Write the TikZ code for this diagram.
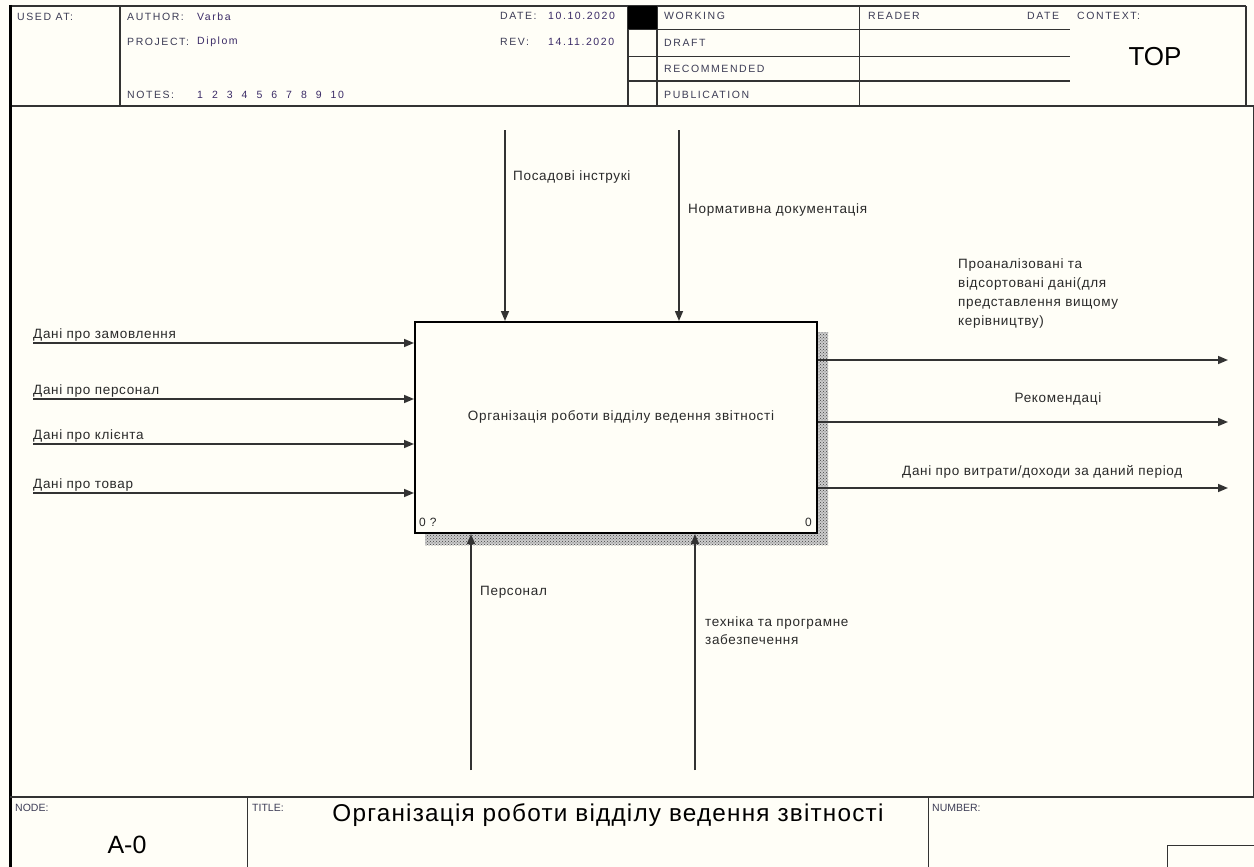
\documentclass[tikz,border=0pt]{standalone}
\usepackage{fontspec}
\setmainfont{Liberation Sans}
\newfontfamily\hdrfont[LetterSpace=15]{Liberation Sans}
\newfontfamily\lblfont[LetterSpace=5]{Liberation Sans}
\usetikzlibrary{arrows.meta,patterns}
\definecolor{bg}{HTML}{FFFEF7}
\definecolor{ln}{HTML}{333333}
\definecolor{txt}{HTML}{2A2A2A}
\definecolor{hval}{HTML}{3A2A66}
\definecolor{hlab}{HTML}{3C3C55}
\begin{document}
\begin{tikzpicture}[x=1pt,y=-1pt,
  lbl/.style={font=\lblfont\fontsize{13.5}{19}\selectfont, text=txt, inner sep=0pt},
  hdr/.style={font=\hdrfont\fontsize{10.5}{12}\selectfont, text=hlab, inner sep=0pt, anchor=west},
  hv/.style={hdr, text=hval},
  tiny/.style={font=\fontsize{10.5}{12}\selectfont, text=hlab, inner sep=0pt, anchor=west},
  arr/.style={draw=ln, line width=1.5pt, -{Triangle[length=10pt,width=8pt]}},
  frame/.style={draw=ln, line width=1.4pt},
  thin/.style={draw=ln, line width=1pt}]
\useasboundingbox (0,0) rectangle (1254,867);
\fill[bg] (0,0) rectangle (1254,867);

% ---------- frame ----------
\draw[frame] (10,6) -- (1246,6);
\draw[frame] (1246,6) -- (1246,106);
\draw[draw=ln, line width=2pt] (10,106) -- (1254,106);
\draw[draw=black, line width=3pt] (10,5) -- (10,867);
\draw[thin] (1253,106) -- (1253,797);
\draw[frame] (120,6) -- (120,106);
\draw[frame] (628,6) -- (628,106);
\draw[frame] (657,6) -- (657,106);
\draw[thin] (859,6) -- (859,106);
\fill[black] (628,6) rectangle (657,30);
\draw[thin] (628,30) -- (1070,30);
\draw[thin] (628,57) -- (1070,57);
\draw[frame] (628,81) -- (1070,81);

% header texts
\node[hdr] (usedat) at (17,17) {USED AT:};
\node[hdr] (author) at (127,17) {AUTHOR:};
\node[hv]  (authorv) at (197,17) {Varba};
\node[hdr] (project) at (127,42) {PROJECT:};
\node[hv]  (projectv) at (197,42) {Diplom};
\node[hdr] (notes) at (127,95) {NOTES:};
\node[hv]  (notesv) at (197,95) {1\hspace{9pt}2\hspace{9pt}3\hspace{9pt}4\hspace{9pt}5\hspace{9pt}6\hspace{9pt}7\hspace{9pt}8\hspace{9pt}9\hspace{9pt}10};
\node[hdr] (date) at (500,16) {DATE:};
\node[hv]  (datev) at (548,16) {10.10.2020};
\node[hdr] (rev) at (500,42) {REV:};
\node[hv]  (revv) at (548,42) {14.11.2020};
\node[hdr] (working) at (664,16) {WORKING};
\node[hdr] (draft) at (664,43) {DRAFT};
\node[hdr] (recom) at (664,69) {RECOMMENDED};
\node[hdr] (publ) at (664,95) {PUBLICATION};
\node[hdr] (reader) at (868,16) {READER};
\node[hdr] (rdate) at (1027,16) {DATE};
\node[hdr] (context) at (1077,16) {CONTEXT:};
\node[font=\fontsize{26}{28}\selectfont, text=black, inner sep=0pt] (top) at (1155,57) {TOP};

% ---------- bottom section ----------
\draw[frame] (10,797) -- (1254,797);
\draw[thin] (247,797) -- (247,867);
\draw[thin] (928,797) -- (928,867);
\draw[thin] (1167,867) -- (1167,845) -- (1254,845);
\node[tiny] (nodel) at (15,808) {NODE:};
\node[tiny] (titlel) at (252,808) {TITLE:};
\node[tiny] (numberl) at (932,808) {NUMBER:};
\node[font=\fontsize{25}{27}\selectfont, text=black, inner sep=0pt] (nodev) at (127,845) {A-0};
\node[font=\lblfont\fontsize{24.3}{26}\selectfont, text=black, inner sep=0pt] (titlev) at (608,815) {Організація роботи відділу ведення звітності};

% ---------- activity box ----------
\fill[gray!40] (425,332) rectangle (828,545);
\fill[pattern=crosshatch dots, pattern color=gray!50!black] (425,332) rectangle (828,545);
\node[draw=black, line width=2pt, fill=bg, minimum width=402pt, minimum height=211pt,
      anchor=north west, inner sep=0pt] (A0) at (414,321) {};
\node[lbl] (A0text) at (621,417) {Організація роботи відділу ведення звітності};
\node[font=\lblfont\fontsize{12}{13}\selectfont, text=txt, inner sep=0pt, anchor=west] (A0num) at (419,522) {0 ?};
\node[font=\lblfont\fontsize{12}{13}\selectfont, text=txt, inner sep=0pt, anchor=east] (A0cost) at (812,522) {0};

% ---------- inputs ----------
\coordinate (in1) at (33,343);
\coordinate (in2) at (33,399);
\coordinate (in3) at (33,444);
\coordinate (in4) at (33,493);
\draw[arr] (in1) -- (in1 -| A0.west);
\draw[arr] (in2) -- (in2 -| A0.west);
\draw[arr] (in3) -- (in3 -| A0.west);
\draw[arr] (in4) -- (in4 -| A0.west);
\node[lbl, anchor=base west] (lin1) at (33,338) {Дані про замовлення};
\node[lbl, anchor=base west] (lin2) at (33,394) {Дані про персонал};
\node[lbl, anchor=base west] (lin3) at (33,439) {Дані про клієнта};
\node[lbl, anchor=base west] (lin4) at (33,488) {Дані про товар};

% ---------- controls ----------
\coordinate (c1) at (505,130);
\coordinate (c2) at (679,130);
\draw[arr] (c1) -- (c1 |- A0.north);
\draw[arr] (c2) -- (c2 |- A0.north);
\node[lbl, anchor=west] (lc1) at (513,177) {Посадові інструкі};
\node[lbl, anchor=west] (lc2) at (688,210) {Нормативна документація};

% ---------- outputs ----------
\coordinate (o1) at (1228,360);
\coordinate (o2) at (1228,422);
\coordinate (o3) at (1228,488);
\draw[arr] (o1 -| A0.east) -- (o1);
\draw[arr] (o2 -| A0.east) -- (o2);
\draw[arr] (o3 -| A0.east) -- (o3);
\node[lbl, anchor=north west, align=left] (lo1) at (958,259) {Проаналізовані та\\відсортовані дані(для\\представлення вищому\\керівництву)};
\node[lbl] (lo2) at (1058,399) {Рекомендаці};
\node[lbl, anchor=west] (lo3) at (902,472) {Дані про витрати/доходи за даний період};

% ---------- mechanisms ----------
\coordinate (m1) at (471,770);
\coordinate (m2) at (695,770);
\draw[arr] (m1) -- (m1 |- A0.south);
\draw[arr] (m2) -- (m2 |- A0.south);
\node[lbl, anchor=west] (lm1) at (480,592) {Персонал};
\node[lbl, anchor=north west, align=left, font=\lblfont\fontsize{13.5}{18}\selectfont] (lm2) at (705,617) {техніка та програмне\\забезпечення};
\end{tikzpicture}
\end{document}
